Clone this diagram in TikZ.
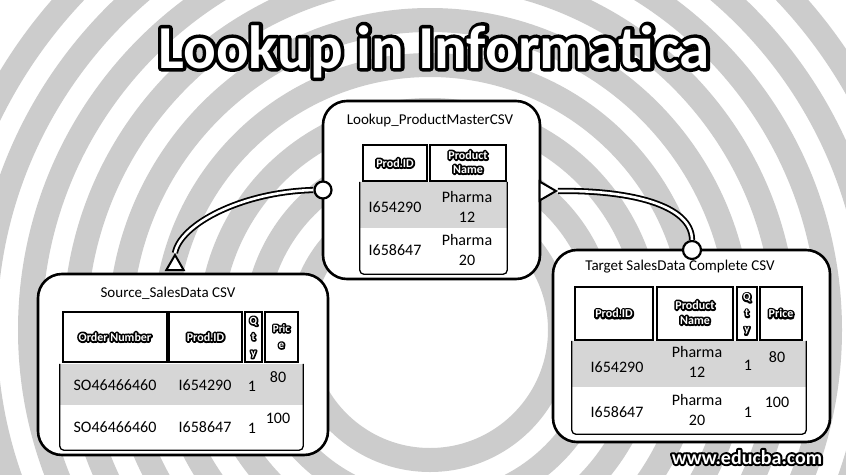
\documentclass[tikz,border=0pt]{standalone}
\usepackage{fontspec}
\setmainfont{Carlito}
\usetikzlibrary{shapes.geometric}
% outlined text: black stroked copy under a white copy
\newcommand\olt[2]{\leavevmode\rlap{\special{pdf:literal direct 0 g 0 G #1 w 1 j 2 Tr}#2\special{pdf:literal direct 0 Tr}}{\color{white}#2}}
\newcommand\hdr[1]{\olt{3.6}{\fontsize{12}{16}\selectfont\bfseries #1}}
\newcommand\hdrs[1]{\olt{3}{\fontsize{11}{16}\selectfont\bfseries\begin{tabular}{@{}c@{}}#1\end{tabular}}}
\begin{document}
\begin{tikzpicture}[x=1pt,y=-1pt,
  bigbox/.style={draw, line width=2.6pt, rounded corners=24pt, fill=white, inner sep=0pt},
  hcell/.style={draw, line width=2.6pt, fill=white, inner sep=0pt},
  rowA/.style={fill=gray!32, inner sep=0pt},
  rowB/.style={fill=white, inner sep=0pt},
  ttl/.style={font=\fontsize{15}{18}\selectfont, inner sep=0pt},
  dtxt/.style={font=\fontsize{16}{20}\selectfont, inner sep=0pt, align=center},
  rowframe/.style={draw, line width=1.3pt, rounded corners=4pt},
  port/.style={circle, draw, line width=2.2pt, fill=white, minimum size=17pt, inner sep=0pt},
  tri/.style={regular polygon, regular polygon sides=3, draw, line width=2pt, fill=white, inner sep=0pt},
  conn/.style={draw=black, line width=1.8pt, double=white, double distance=2.6pt}
]
\useasboundingbox (0,0) rectangle (846,474);
\fill[white] (0,0) rectangle (846,474);
% background rings
\begin{scope}
  \clip (0,0) rectangle (846,474);
  \foreach \r in {130,175,...,490}
    \draw[gray!40, line width=24pt] (430,330) circle[radius=\r];
\end{scope}

% title
\node[anchor=base, inner sep=0pt] (title) at (434,68)
  {\olt{7}{\fontsize{61}{61}\selectfont\bfseries Lookup in Informatica}};

% ---------- Source box ----------
\node[bigbox, minimum width=290pt, minimum height=181pt] (src) at (183,364.5) {};
\node[ttl] (srcT) at (168,293) {Source\_SalesData CSV};
\node[rowA, minimum width=243pt, minimum height=41pt] (s-r1) at (181.5,384.5) {};
\node[rowB, minimum width=243pt, minimum height=45pt] (s-r2) at (181.5,427.5) {};
\draw[rowframe] (s-r1.north west) -- (s-r2.south west) -- (s-r2.south east) -- (s-r1.north east);
\node[hcell, minimum width=104pt, minimum height=50pt] (s-h1) at (115,337) {\hdr{Order Number}};
\node[hcell, minimum width=73pt, minimum height=50pt] (s-h2) at (205.5,337) {\hdr{Prod.ID}};
\node[hcell, minimum width=17pt, minimum height=50pt] (s-h3) at (253.5,337) {\hdrs{Q\\t\\y}};
\node[hcell, minimum width=33pt, minimum height=50pt] (s-h4) at (281.5,337) {\hdrs{Pric\\e}};
\node[dtxt] (s-a1) at (115,385) {SO46466460};
\node[dtxt] (s-b1) at (205,385) {I654290};
\node[dtxt] (s-c1) at (252,386) {1};
\node[dtxt] (s-d1) at (278,377) {80};
\node[dtxt] (s-a2) at (115,427) {SO46466460};
\node[dtxt] (s-b2) at (205,427) {I658647};
\node[dtxt] (s-c2) at (252,428) {1};
\node[dtxt] (s-d2) at (278,418) {100};

% ---------- Lookup box ----------
\node[bigbox, minimum width=217pt, minimum height=178pt] (lkp) at (431.5,190) {};
\node[ttl] (lkpT) at (430,120) {Lookup\_ProductMasterCSV};
\node[rowA, minimum width=147pt, minimum height=46pt] (l-r1) at (433.5,205) {};
\node[rowB, minimum width=147pt, minimum height=46pt] (l-r2) at (433.5,251) {};
\draw[rowframe] (l-r1.north west) -- (l-r2.south west) -- (l-r2.south east) -- (l-r1.north east);
\node[hcell, minimum width=64pt, minimum height=36pt] (l-h1) at (395,163) {\hdr{Prod.ID}};
\node[hcell, minimum width=76pt, minimum height=36pt] (l-h2) at (468,163) {\hdr{\begin{tabular}{@{}c@{}}Product\\[-2pt]Name\end{tabular}}};
\node[dtxt] (l-a1) at (395,207) {I654290};
\node[dtxt] (l-b1) at (467,207) {Pharma\\12};
\node[dtxt] (l-a2) at (395,250) {I658647};
\node[dtxt] (l-b2) at (467,250) {Pharma\\20};

% ---------- Target box ----------
\node[bigbox, minimum width=277pt, minimum height=192pt] (tgt) at (691.5,346) {};
\node[ttl] (tgtT) at (680,267) {Target SalesData Complete CSV};
\node[rowA, minimum width=234pt, minimum height=46pt] (t-r1) at (689,364) {};
\node[rowB, minimum width=234pt, minimum height=47pt] (t-r2) at (689,410.5) {};
\draw[rowframe] (t-r1.north west) -- (t-r2.south west) -- (t-r2.south east) -- (t-r1.north east);
\node[hcell, minimum width=78pt, minimum height=53pt] (t-h1) at (614,313.5) {\hdr{Prod.ID}};
\node[hcell, minimum width=76pt, minimum height=53pt] (t-h2) at (695,313.5) {\hdr{\begin{tabular}{@{}c@{}}Product\\[-1pt]Name\end{tabular}}};
\node[hcell, minimum width=20pt, minimum height=53pt] (t-h3) at (747,313.5) {\hdrs{Q\\t\\y}};
\node[hcell, minimum width=42pt, minimum height=53pt] (t-h4) at (781,313.5) {\hdr{Price}};
\node[dtxt] (t-a1) at (617,367) {I654290};
\node[dtxt] (t-b1) at (697,362) {Pharma\\12};
\node[dtxt] (t-c1) at (748,365) {1};
\node[dtxt] (t-d1) at (777,357) {80};
\node[dtxt] (t-a2) at (617,412) {I658647};
\node[dtxt] (t-b2) at (697,410) {Pharma\\20};
\node[dtxt] (t-c2) at (748,412) {1};
\node[dtxt] (t-d2) at (777,402) {100};

% ---------- ports and connectors ----------
\node[tri, minimum size=20pt] (tri1) at (175,265) {};
\node[port] (c1) at (323,190) {};
\node[tri, minimum size=22pt, shape border rotate=-90] (tri2) at (545,191) {};
\node[port, minimum size=18pt] (c2) at (692,250) {};
\draw[conn] (tri1.corner 1) .. controls (180,225) and (240,192) .. (c1.west);
\draw[conn] (tri2.corner 1) .. controls (630,190) and (692,205) .. (c2.north);

% watermark
\node[anchor=base, inner sep=0pt] (www) at (747,464)
  {\olt{4}{\fontsize{20}{20}\selectfont\bfseries www.educba.com}};
\end{tikzpicture}
\end{document}
